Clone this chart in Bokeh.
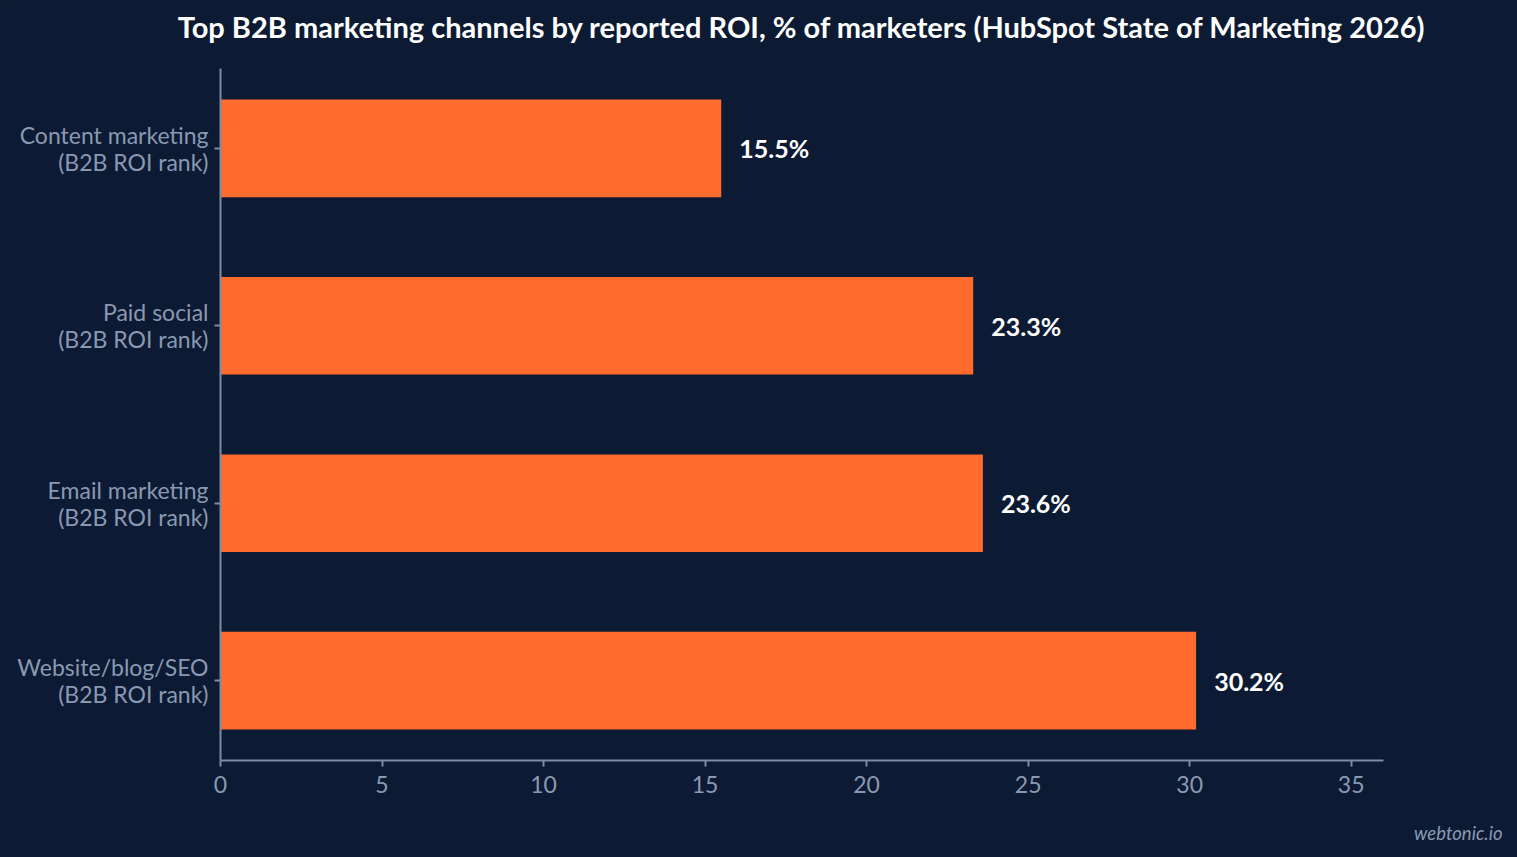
from bokeh.plotting import figure
from bokeh.models import ColumnDataSource, FactorRange, Range1d, Title
from bokeh.core.properties import value
from bokeh.embed import file_html
from bokeh.resources import INLINE

# data (bottom to top, as bokeh lays factors out)
channels = ["Website/blog/SEO", "Email marketing", "Paid social", "Content marketing"]
roi_pct = [30.2, 23.6, 23.3, 15.5]
x_ticks = [0, 5, 10, 15, 20, 25, 30, 35]

BG = "#0c1b33"
BAR = "#ff6b2c"
MUTED = "#8a99b2"
AXIS = "#7d8ca6"

factors = [c + "\n(B2B ROI rank)" for c in channels]

src = ColumnDataSource(dict(
    ch=factors,
    v=roi_pct,
    lbl=["%.1f%%" % v for v in roi_pct],
))

p = figure(
    y_range=FactorRange(*factors, range_padding=-0.05, range_padding_units="absolute"),
    x_range=Range1d(0, 36.0),
    width=1517, height=857,
    min_border_left=220, min_border_right=134,
    min_border_top=68, min_border_bottom=97,
    output_backend="svg", toolbar_location=None,
    title="Top B2B marketing channels by reported ROI, % of marketers (HubSpot State of Marketing 2026)",
)
p.styles = {"background-color": BG}

p.background_fill_color = BG
p.border_fill_color = BG
p.outline_line_color = None
p.xgrid.grid_line_color = None
p.ygrid.grid_line_color = None

p.title.align = "center"
p.title.text_font = "Lato"
p.title.text_font_size = "29px"
p.title.text_font_style = "bold"
p.title.text_color = "#ffffff"
p.title.standoff = 0

# empty title used as a spacer between the title and the frame
p.add_layout(Title(text=" ", text_font_size="10px", standoff=12,
                   text_color=BG), "above")

p.hbar(y="ch", right="v", left=0, height=0.55, source=src,
       fill_color=BAR, line_color=None)

p.text(x="v", y="ch", text="lbl", source=src, x_offset=18,
       text_font=value("Lato"), text_font_style="bold", text_font_size="25px",
       text_color="#ffffff", text_align="left", text_baseline="middle")

# axes
p.xaxis.ticker = x_ticks
for ax in (p.xaxis[0], p.yaxis[0]):
    ax.axis_line_color = AXIS
    ax.axis_line_width = 2
    ax.major_tick_line_color = AXIS
    ax.major_tick_line_width = 2
    ax.major_tick_in = 0
    ax.major_tick_out = 6
    ax.minor_tick_line_color = None
    ax.major_label_text_font = "Lato"
    ax.major_label_text_font_size = "23px"
    ax.major_label_text_color = MUTED

p.yaxis.major_label_text_line_height = 0.95
p.yaxis.major_label_standoff = 6
p.xaxis.major_label_standoff = 9

# spacer + watermark below the x axis
p.add_layout(Title(text=" ", text_font_size="8px", standoff=13,
                   text_color=BG), "below")
p.add_layout(Title(text="webtonic.io", align="right", offset=-119, standoff=0,
                   text_font="Lato", text_font_style="italic",
                   text_font_size="18.5px", text_color=MUTED), "below")

open("out.html", "w").write(file_html(p, INLINE))
